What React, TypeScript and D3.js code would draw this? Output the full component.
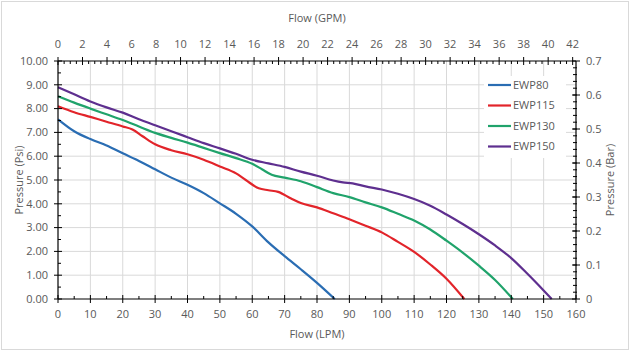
import React, { useEffect, useRef } from 'react';
import * as d3 from 'd3';

// Pump curves: flow in LPM vs pressure in psi
const ewp80: [number, number][] = [
  [0, 7.55], [5, 7.05], [10, 6.72], [15, 6.45], [20, 6.12], [25, 5.8], [30, 5.45],
  [35, 5.1], [40, 4.8], [45, 4.45], [50, 4.02], [55, 3.58], [60, 3.05], [65, 2.38],
  [70, 1.8], [75, 1.25], [80, 0.68], [85.5, 0],
];
const ewp115: [number, number][] = [
  [0, 8.1], [5, 7.85], [10, 7.65], [15, 7.45], [20, 7.25], [23, 7.12], [26, 6.85],
  [30, 6.5], [35, 6.25], [40, 6.08], [45, 5.85], [50, 5.57], [55, 5.28], [58, 5.0],
  [62, 4.65], [65, 4.57], [68, 4.5], [72, 4.22], [75, 4.03], [80, 3.85], [85, 3.6],
  [90, 3.35], [95, 3.08], [100, 2.8], [105, 2.4], [110, 1.98], [115, 1.45],
  [120, 0.85], [125.5, 0],
];
const ewp130: [number, number][] = [
  [0, 8.52], [5, 8.25], [10, 8.0], [15, 7.76], [20, 7.52], [25, 7.25], [30, 6.98],
  [35, 6.77], [40, 6.57], [45, 6.35], [50, 6.13], [55, 5.92], [60, 5.68], [63, 5.45],
  [66, 5.22], [70, 5.1], [75, 4.95], [80, 4.7], [85, 4.45], [90, 4.28], [95, 4.06],
  [100, 3.85], [105, 3.58], [110, 3.3], [115, 2.92], [120, 2.45], [125, 1.95],
  [130, 1.4], [135, 0.8], [140.5, 0],
];
const ewp150: [number, number][] = [
  [0, 8.9], [5, 8.6], [10, 8.3], [15, 8.05], [20, 7.83], [25, 7.55], [30, 7.3],
  [35, 7.05], [40, 6.8], [45, 6.55], [50, 6.33], [55, 6.1], [60, 5.85], [65, 5.7],
  [70, 5.55], [75, 5.35], [80, 5.18], [85, 4.98], [88, 4.9], [91, 4.86], [95, 4.73],
  [100, 4.6], [105, 4.42], [110, 4.2], [115, 3.92], [120, 3.55], [125, 3.15],
  [130, 2.72], [135, 2.25], [140, 1.72], [145, 1.06], [150, 0.36], [152.5, 0],
];

const seriesNames = ['EWP80', 'EWP115', 'EWP130', 'EWP150'];
const seriesData = [ewp80, ewp115, ewp130, ewp150];
const seriesColors = ['#2a6db3', '#e2242a', '#20a36b', '#5e2f8f'];

const lpmTicks = d3.range(0, 161, 10);
const gpmTicks = d3.range(0, 43, 2);
const psiTicks = d3.range(0, 10.01, 1);
const barTicks = d3.range(0, 0.71, 0.1);

const LPM_PER_GPM = 3.785;
const W = 630;
const H = 351;
const margin = { top: 61, right: 54, bottom: 52, left: 58 };

const App: React.FC = () => {
  const svgRef = useRef<SVGSVGElement>(null);

  useEffect(() => {
    if (!svgRef.current) return;
    const svg = d3.select(svgRef.current);
    svg.selectAll('*').remove();

    const x0 = margin.left;
    const x1 = W - margin.right;
    const y0 = H - margin.bottom;
    const y1 = margin.top;

    const x = d3.scaleLinear().domain([0, 160]).range([x0, x1]);
    const y = d3.scaleLinear().domain([0, 10]).range([y0, y1]);
    const yBar = d3.scaleLinear().domain([0, 0.7]).range([y0, y1]);
    const xGpm = (g: number) => x(g * LPM_PER_GPM);

    const font = "'Open Sans', 'Liberation Sans', sans-serif";
    const labelColor = '#595959';

    svg.append('rect')
      .attr('x', 1.5).attr('y', 1.5)
      .attr('width', W - 3).attr('height', H - 3)
      .attr('fill', '#fff').attr('stroke', '#d9d9d9');

    // grid
    const grid = svg.append('g').attr('stroke', '#d9d9d9').attr('stroke-width', 1);
    grid.selectAll('line.v').data(lpmTicks.slice(1, -1)).join('line')
      .attr('x1', d => x(d)).attr('x2', d => x(d))
      .attr('y1', y1).attr('y2', y0);
    grid.selectAll('line.h').data(psiTicks.slice(1, -1)).join('line')
      .attr('x1', x0).attr('x2', x1)
      .attr('y1', d => y(d)).attr('y2', d => y(d));

    // curves
    const line = d3.line<[number, number]>()
      .x(d => x(d[0]))
      .y(d => y(d[1]))
      .curve(d3.curveMonotoneX);

    seriesData.forEach((s, i) => {
      svg.append('path')
        .datum(s)
        .attr('fill', 'none')
        .attr('stroke', seriesColors[i])
        .attr('stroke-width', 2.2)
        .attr('stroke-linejoin', 'round')
        .attr('d', line);
    });

    // axes frame
    const axes = svg.append('g').attr('stroke', '#000').attr('stroke-width', 1.2);
    axes.append('line').attr('x1', x0).attr('x2', x1).attr('y1', y0).attr('y2', y0);
    axes.append('line').attr('x1', x0).attr('x2', x1).attr('y1', y1).attr('y2', y1);
    axes.append('line').attr('x1', x0).attr('x2', x0).attr('y1', y1).attr('y2', y0);
    axes.append('line').attr('x1', x1).attr('x2', x1).attr('y1', y1).attr('y2', y0);

    const ticks = svg.append('g').attr('stroke', '#000').attr('stroke-width', 1);
    // bottom: major crossing, minor inside
    lpmTicks.forEach(t => {
      ticks.append('line').attr('x1', x(t)).attr('x2', x(t)).attr('y1', y0 - 4).attr('y2', y0 + 4);
    });
    d3.range(5, 160, 10).forEach(t => {
      ticks.append('line').attr('x1', x(t)).attr('x2', x(t)).attr('y1', y0 - 3).attr('y2', y0);
    });
    // top: GPM
    gpmTicks.forEach(t => {
      ticks.append('line').attr('x1', xGpm(t)).attr('x2', xGpm(t)).attr('y1', y1 - 4).attr('y2', y1 + 4);
    });
    d3.range(0.5, 42, 0.5).filter(t => t % 2 !== 0).forEach(t => {
      ticks.append('line').attr('x1', xGpm(t)).attr('x2', xGpm(t)).attr('y1', y1).attr('y2', y1 + 3);
    });
    // left: psi
    psiTicks.forEach(t => {
      ticks.append('line').attr('x1', x0 - 4).attr('x2', x0 + 4).attr('y1', y(t)).attr('y2', y(t));
    });
    d3.range(0.5, 10, 1).forEach(t => {
      ticks.append('line').attr('x1', x0).attr('x2', x0 + 3).attr('y1', y(t)).attr('y2', y(t));
    });
    // right: bar
    barTicks.forEach(t => {
      ticks.append('line').attr('x1', x1 - 4).attr('x2', x1 + 4).attr('y1', yBar(t)).attr('y2', yBar(t));
    });
    d3.range(0.02, 0.7, 0.02).forEach(t => {
      ticks.append('line').attr('x1', x1 - 3).attr('x2', x1 + 1).attr('y1', yBar(t)).attr('y2', yBar(t));
    });

    // tick labels
    const labels = svg.append('g')
      .style('font-family', font)
      .style('font-size', '11px')
      .attr('fill', labelColor);

    labels.selectAll('text.b').data(lpmTicks).join('text')
      .attr('x', d => x(d)).attr('y', y0 + 19)
      .attr('text-anchor', 'middle')
      .text(d => d);
    labels.selectAll('text.t').data(gpmTicks).join('text')
      .attr('x', d => xGpm(d)).attr('y', y1 - 13)
      .attr('text-anchor', 'middle')
      .text(d => d);
    labels.selectAll('text.l').data(psiTicks).join('text')
      .attr('x', x0 - 10).attr('y', d => y(d))
      .attr('dy', '0.35em')
      .attr('text-anchor', 'end')
      .text(d => d3.format('.2f')(d));
    labels.selectAll('text.r').data(barTicks).join('text')
      .attr('x', x1 + 10).attr('y', d => yBar(d))
      .attr('dy', '0.35em')
      .attr('text-anchor', 'start')
      .text(d => (d === 0 ? '0' : d3.format('.1f')(d)));

    // axis titles
    const titles = svg.append('g')
      .style('font-family', font)
      .style('font-size', '11px')
      .attr('fill', labelColor)
      .attr('text-anchor', 'middle');
    titles.append('text').attr('x', (x0 + x1) / 2).attr('y', y0 + 39).text('Flow (LPM)');
    titles.append('text').attr('x', (x0 + x1) / 2).attr('y', 22).text('Flow (GPM)');
    titles.append('text')
      .attr('transform', `translate(23,${(y0 + y1) / 2}) rotate(-90)`)
      .text('Pressure (Psi)');
    titles.append('text')
      .attr('transform', `translate(614,${(y0 + y1) / 2}) rotate(-90)`)
      .text('Pressure (Bar)');

    // legend
    const legend = svg.append('g').attr('transform', 'translate(484,76)');
    legend.append('rect')
      .attr('width', 82).attr('height', 82)
      .attr('fill', '#fff');
    seriesNames.forEach((name, i) => {
      const g = legend.append('g').attr('transform', `translate(0,${9 + i * 20.5})`);
      g.append('line')
        .attr('x1', 4).attr('x2', 27)
        .attr('stroke', seriesColors[i]).attr('stroke-width', 2.2);
      g.append('text')
        .attr('x', 29).attr('dy', '0.35em')
        .style('font-family', font)
        .style('font-size', '11px')
        .attr('fill', labelColor)
        .text(name);
    });
  }, []);

  return (
    <div style={{ position: 'absolute', left: 0, top: 0 }}>
      <svg ref={svgRef} width={W} height={H} style={{ display: 'block' }} />
    </div>
  );
};

export default App;
